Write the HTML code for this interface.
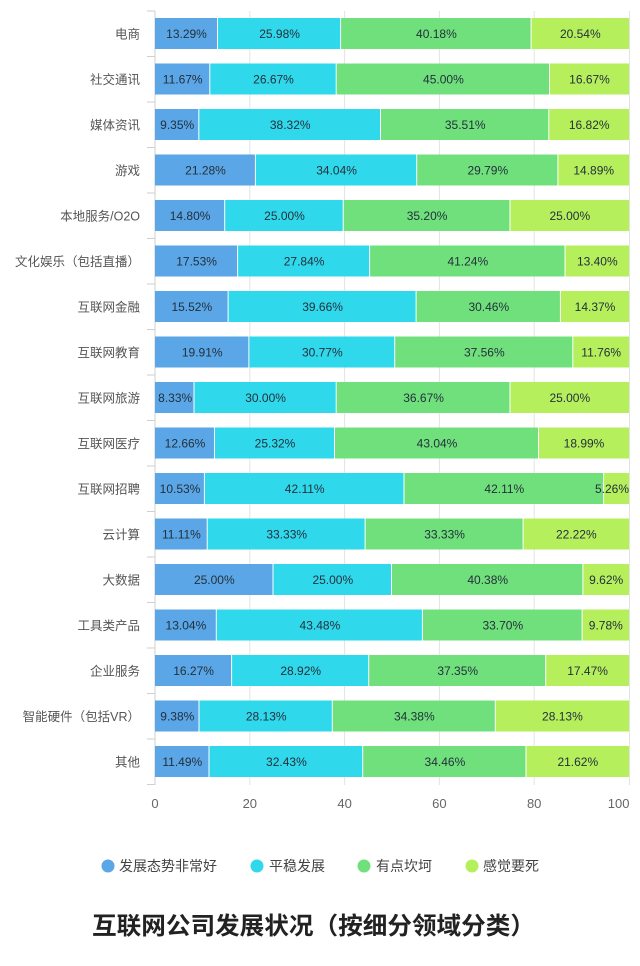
<!DOCTYPE html>
<html><head><meta charset="utf-8"><style>
html,body{margin:0;padding:0;background:#fff;}
svg{display:block;}
.v{font-family:"Liberation Sans","Noto Sans CJK SC",sans-serif;font-size:12px;fill:#24303c;text-anchor:middle;}
.c{font-family:"Liberation Sans","Noto Sans CJK SC",sans-serif;font-size:12.5px;fill:#555;text-anchor:end;}
.t{font-family:"Liberation Sans","Noto Sans CJK SC",sans-serif;font-size:13px;fill:#666;text-anchor:middle;}
.l{font-family:"Liberation Sans","Noto Sans CJK SC",sans-serif;font-size:14px;fill:#444;}
.b1{fill:#5aa6e6}.b2{fill:#2fd8ea}.b3{fill:#70e07c}.b4{fill:#b6ef5c}
</style></head><body>
<svg width="640" height="966" viewBox="0 0 640 966" xmlns="http://www.w3.org/2000/svg">
<rect width="640" height="966" fill="#fff"/>
<!-- gridlines -->
<g stroke="#e3e3e3" stroke-width="1">
<line x1="249.8" y1="11" x2="249.8" y2="785"/>
<line x1="344.6" y1="11" x2="344.6" y2="785"/>
<line x1="439.4" y1="11" x2="439.4" y2="785"/>
<line x1="534.2" y1="11" x2="534.2" y2="785"/>
<line x1="629.5" y1="11" x2="629.5" y2="785"/>
</g>
<g stroke="#cfcfcf" stroke-width="1">
<line x1="155" y1="11" x2="155" y2="785"/>
<line x1="147" y1="11" x2="155" y2="11"/>
<line x1="147" y1="56.5" x2="155" y2="56.5"/>
<line x1="147" y1="102" x2="155" y2="102"/>
<line x1="147" y1="147.5" x2="155" y2="147.5"/>
<line x1="147" y1="193" x2="155" y2="193"/>
<line x1="147" y1="238.5" x2="155" y2="238.5"/>
<line x1="147" y1="284" x2="155" y2="284"/>
<line x1="147" y1="329.5" x2="155" y2="329.5"/>
<line x1="147" y1="375" x2="155" y2="375"/>
<line x1="147" y1="420.5" x2="155" y2="420.5"/>
<line x1="147" y1="466" x2="155" y2="466"/>
<line x1="147" y1="511.5" x2="155" y2="511.5"/>
<line x1="147" y1="557" x2="155" y2="557"/>
<line x1="147" y1="602.5" x2="155" y2="602.5"/>
<line x1="147" y1="648" x2="155" y2="648"/>
<line x1="147" y1="693.5" x2="155" y2="693.5"/>
<line x1="147" y1="739" x2="155" y2="739"/>
<line x1="147" y1="784.5" x2="155" y2="784.5"/>
</g>

<!-- rows -->
<g transform="translate(0,18)">
<rect class="b1" x="155" y="0" width="62" height="31"/><rect class="b2" x="218" y="0" width="122.1" height="31"/><rect class="b3" x="341.1" y="0" width="189.5" height="31"/><rect class="b4" x="531.6" y="0" width="97.4" height="31"/>
<text class="v" x="186.5" y="20">13.29%</text><text class="v" x="279.6" y="20">25.98%</text><text class="v" x="436.4" y="20">40.18%</text><text class="v" x="580.3" y="20">20.54%</text>
<text class="c" x="140" y="20.5">电商</text></g>

<g transform="translate(0,63.5)">
<rect class="b1" x="155" y="0" width="54.3" height="31"/><rect class="b2" x="210.3" y="0" width="125.4" height="31"/><rect class="b3" x="336.7" y="0" width="212.3" height="31"/><rect class="b4" x="550" y="0" width="79" height="31"/>
<text class="v" x="182.7" y="20">11.67%</text><text class="v" x="273.5" y="20">26.67%</text><text class="v" x="443.4" y="20">45.00%</text><text class="v" x="589.5" y="20">16.67%</text>
<text class="c" x="140" y="20.5">社交通讯</text></g>

<g transform="translate(0,109)">
<rect class="b1" x="155" y="0" width="43.3" height="31"/><rect class="b2" x="199.3" y="0" width="180.7" height="31"/><rect class="b3" x="381" y="0" width="167.3" height="31"/><rect class="b4" x="549.3" y="0" width="79.7" height="31"/>
<text class="v" x="177.2" y="20">9.35%</text><text class="v" x="290.2" y="20">38.32%</text><text class="v" x="465.2" y="20">35.51%</text><text class="v" x="589.2" y="20">16.82%</text>
<text class="c" x="140" y="20.5">媒体资讯</text></g>

<g transform="translate(0,154.5)">
<rect class="b1" x="155" y="0" width="99.9" height="31"/><rect class="b2" x="255.9" y="0" width="160.3" height="31"/><rect class="b3" x="417.2" y="0" width="140.2" height="31"/><rect class="b4" x="558.4" y="0" width="70.6" height="31"/>
<text class="v" x="205.5" y="20">21.28%</text><text class="v" x="336.6" y="20">34.04%</text><text class="v" x="487.8" y="20">29.79%</text><text class="v" x="593.7" y="20">14.89%</text>
<text class="c" x="140" y="20.5">游戏</text></g>

<g transform="translate(0,200)">
<rect class="b1" x="155" y="0" width="69.2" height="31"/><rect class="b2" x="225.2" y="0" width="117.5" height="31"/><rect class="b3" x="343.7" y="0" width="165.8" height="31"/><rect class="b4" x="510.5" y="0" width="118.5" height="31"/>
<text class="v" x="190.1" y="20">14.80%</text><text class="v" x="284.5" y="20">25.00%</text><text class="v" x="427.1" y="20">35.20%</text><text class="v" x="569.8" y="20">25.00%</text>
<text class="c" x="140" y="20.5">本地服务/O2O</text></g>

<g transform="translate(0,245.5)">
<rect class="b1" x="155" y="0" width="82.1" height="31"/><rect class="b2" x="238.1" y="0" width="131" height="31"/><rect class="b3" x="370.1" y="0" width="194.4" height="31"/><rect class="b4" x="565.5" y="0" width="63.5" height="31"/>
<text class="v" x="196.6" y="20">17.53%</text><text class="v" x="304.1" y="20">27.84%</text><text class="v" x="467.8" y="20">41.24%</text><text class="v" x="597.3" y="20">13.40%</text>
<text class="c" x="140" y="20.5">文化娱乐（包括直播）</text></g>

<g transform="translate(0,291)">
<rect class="b1" x="155" y="0" width="72.6" height="31"/><rect class="b2" x="228.6" y="0" width="187" height="31"/><rect class="b3" x="416.6" y="0" width="143.3" height="31"/><rect class="b4" x="560.9" y="0" width="68.1" height="31"/>
<text class="v" x="191.8" y="20">15.52%</text><text class="v" x="322.6" y="20">39.66%</text><text class="v" x="488.8" y="20">30.46%</text><text class="v" x="595" y="20">14.37%</text>
<text class="c" x="140" y="20.5">互联网金融</text></g>

<g transform="translate(0,336.5)">
<rect class="b1" x="155" y="0" width="93.4" height="31"/><rect class="b2" x="249.4" y="0" width="144.8" height="31"/><rect class="b3" x="395.2" y="0" width="177.1" height="31"/><rect class="b4" x="573.3" y="0" width="55.7" height="31"/>
<text class="v" x="202.2" y="20">19.91%</text><text class="v" x="322.3" y="20">30.77%</text><text class="v" x="484.3" y="20">37.56%</text><text class="v" x="601.2" y="20">11.76%</text>
<text class="c" x="140" y="20.5">互联网教育</text></g>

<g transform="translate(0,382)">
<rect class="b1" x="155" y="0" width="38.5" height="31"/><rect class="b2" x="194.5" y="0" width="141.2" height="31"/><rect class="b3" x="336.7" y="0" width="172.8" height="31"/><rect class="b4" x="510.5" y="0" width="118.5" height="31"/>
<text class="v" x="175.2" y="20">8.33%</text><text class="v" x="265.6" y="20">30.00%</text><text class="v" x="423.6" y="20">36.67%</text><text class="v" x="569.8" y="20">25.00%</text>
<text class="c" x="140" y="20.5">互联网旅游</text></g>

<g transform="translate(0,427.5)">
<rect class="b1" x="155" y="0" width="59" height="31"/><rect class="b2" x="215" y="0" width="119" height="31"/><rect class="b3" x="335" y="0" width="203" height="31"/><rect class="b4" x="539" y="0" width="90" height="31"/>
<text class="v" x="185" y="20">12.66%</text><text class="v" x="275" y="20">25.32%</text><text class="v" x="437" y="20">43.04%</text><text class="v" x="584" y="20">18.99%</text>
<text class="c" x="140" y="20.5">互联网医疗</text></g>

<g transform="translate(0,473)">
<rect class="b1" x="155" y="0" width="48.9" height="31"/><rect class="b2" x="204.9" y="0" width="198.6" height="31"/><rect class="b3" x="404.5" y="0" width="198.6" height="31"/><rect class="b4" x="604.1" y="0" width="24.9" height="31"/>
<text class="v" x="180" y="20">10.53%</text><text class="v" x="304.7" y="20">42.11%</text><text class="v" x="504.3" y="20">42.11%</text><text class="v" x="612" y="20">5.26%</text>
<text class="c" x="140" y="20.5">互联网招聘</text></g>

<g transform="translate(0,518.5)">
<rect class="b1" x="155" y="0" width="51.7" height="31"/><rect class="b2" x="207.7" y="0" width="156.9" height="31"/><rect class="b3" x="365.6" y="0" width="157" height="31"/><rect class="b4" x="523.6" y="0" width="105.4" height="31"/>
<text class="v" x="181.4" y="20">11.11%</text><text class="v" x="286.7" y="20">33.33%</text><text class="v" x="444.6" y="20">33.33%</text><text class="v" x="576.3" y="20">22.22%</text>
<text class="c" x="140" y="20.5">云计算</text></g>

<g transform="translate(0,564)">
<rect class="b1" x="155" y="0" width="117.5" height="31"/><rect class="b2" x="273.5" y="0" width="117.5" height="31"/><rect class="b3" x="392" y="0" width="190.4" height="31"/><rect class="b4" x="583.4" y="0" width="45.6" height="31"/>
<text class="v" x="214.3" y="20">25.00%</text><text class="v" x="332.8" y="20">25.00%</text><text class="v" x="487.7" y="20">40.38%</text><text class="v" x="606.2" y="20">9.62%</text>
<text class="c" x="140" y="20.5">大数据</text></g>

<g transform="translate(0,609.5)">
<rect class="b1" x="155" y="0" width="60.8" height="31"/><rect class="b2" x="216.8" y="0" width="205.1" height="31"/><rect class="b3" x="422.9" y="0" width="158.7" height="31"/><rect class="b4" x="582.6" y="0" width="46.4" height="31"/>
<text class="v" x="185.9" y="20">13.04%</text><text class="v" x="319.9" y="20">43.48%</text><text class="v" x="502.8" y="20">33.70%</text><text class="v" x="605.8" y="20">9.78%</text>
<text class="c" x="140" y="20.5">工具类产品</text></g>

<g transform="translate(0,655)">
<rect class="b1" x="155" y="0" width="76.1" height="31"/><rect class="b2" x="232.1" y="0" width="136.1" height="31"/><rect class="b3" x="369.2" y="0" width="176" height="31"/><rect class="b4" x="546.2" y="0" width="82.8" height="31"/>
<text class="v" x="193.6" y="20">16.27%</text><text class="v" x="300.7" y="20">28.92%</text><text class="v" x="457.7" y="20">37.35%</text><text class="v" x="587.6" y="20">17.47%</text>
<text class="c" x="140" y="20.5">企业服务</text></g>

<g transform="translate(0,700.5)">
<rect class="b1" x="155" y="0" width="43.5" height="31"/><rect class="b2" x="199.5" y="0" width="132.3" height="31"/><rect class="b3" x="332.8" y="0" width="162" height="31"/><rect class="b4" x="495.8" y="0" width="133.2" height="31"/>
<text class="v" x="177.3" y="20">9.38%</text><text class="v" x="266.2" y="20">28.13%</text><text class="v" x="414.3" y="20">34.38%</text><text class="v" x="562.4" y="20">28.13%</text>
<text class="c" x="140" y="20.5">智能硬件（包括VR）</text></g>

<g transform="translate(0,746)">
<rect class="b1" x="155" y="0" width="53.5" height="31"/><rect class="b2" x="209.5" y="0" width="152.7" height="31"/><rect class="b3" x="363.2" y="0" width="162.3" height="31"/><rect class="b4" x="526.5" y="0" width="102.5" height="31"/>
<text class="v" x="182.3" y="20">11.49%</text><text class="v" x="286.4" y="20">32.43%</text><text class="v" x="444.9" y="20">34.46%</text><text class="v" x="577.8" y="20">21.62%</text>
<text class="c" x="140" y="20.5">其他</text></g>

<!-- x tick labels -->
<text class="t" x="155" y="808">0</text>
<text class="t" x="249.8" y="808">20</text>
<text class="t" x="344.6" y="808">40</text>
<text class="t" x="439.4" y="808">60</text>
<text class="t" x="534.2" y="808">80</text>
<text class="t" x="629.5" y="808" style="text-anchor:end">100</text>

<!-- legend -->
<circle cx="108" cy="866" r="6.5" class="b1"/>
<text class="l" x="119" y="871">发展态势非常好</text>
<circle cx="257" cy="866" r="6.5" class="b2"/>
<text class="l" x="269" y="871">平稳发展</text>
<circle cx="364" cy="866" r="6.5" class="b3"/>
<text class="l" x="376" y="871">有点坎坷</text>
<circle cx="472" cy="866" r="6.5" class="b4"/>
<text class="l" x="483" y="871">感觉要死</text>

<!-- title -->
<text x="92" y="934" textLength="443" lengthAdjust="spacingAndGlyphs" style="font-family:'Liberation Sans','Noto Sans CJK SC',sans-serif;font-size:24px;font-weight:bold;fill:#222;">互联网公司发展状况（按细分领域分类）</text>
</svg>
</body></html>
